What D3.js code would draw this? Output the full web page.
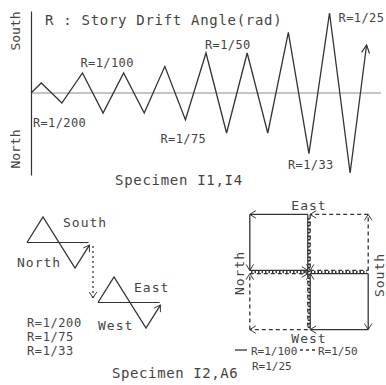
<!DOCTYPE html>
<html>
<head>
<meta charset="utf-8">
<script src="https://cdn.jsdelivr.net/npm/d3@7"></script>
<style>
  body { margin: 0; background: #fff; }
  svg text { font-family: "DejaVu Sans Mono", monospace; fill: #444; }
</style>
</head>
<body>
<svg id="chart" width="386" height="385"></svg>
<script>
// loading history, top chart: step (quarter cycles) and drift angle R (rad)
let steps = [0, 1, 3, 5, 7, 9, 11, 13, 15, 17, 19, 21, 23, 25, 27, 29, 31, 32.6];
let drift = [0, 1/200, -1/200, 1/100, -1/100, 1/100, -1/100, 1/75, -1/75,
             1/50, -1/50, 1/50, -1/50, 1/33, -1/33, 1/25, -1/25, 0.024];
let peakLabels = ["R=1/200", "R=1/100", "R=1/75", "R=1/50", "R=1/33", "R=1/25"];
let peakIdx = [2, 3, 8, 9, 14, 15];   // which point each label belongs to
let peakOff = [[-29, 24], [-2, -6], [-25, 23], [-1, -4], [-21, 15], [9, 9]];

// uniaxial zigzag (Specimen I2, A6)
let zigX = [0, 1, 3, 3.9];
let zigY = [0, 1, -1, -0.1];
let uniLabels = ["R=1/200", "R=1/75", "R=1/33"];

// biaxial square orbits (EW, NS)
let orbit100 = [
  [[0, 0], [0, 1], [-1, 1], [-1, 0], [0, 0]],
  [[0, 0], [1, 0], [1, -1], [0, -1], [0, 0]]
];
let orbit50 = [
  [[0, 0], [1, 0], [1, 1], [0, 1], [0, 0]],
  [[0, 0], [0, -1], [-1, -1], [-1, 0], [0, 0]]
];
let orbit25 = [
  [[0, -1], [0, 1]],
  [[-1, 0], [1, 0]]
];

let INK = "#333";
let svg = d3.select("#chart");

let defs = svg.append("defs");
defs.append("marker")
  .attr("id", "arr")
  .attr("viewBox", "-10 -6 12 12")
  .attr("refX", 0).attr("refY", 0)
  .attr("markerWidth", 12).attr("markerHeight", 12)
  .attr("markerUnits", "userSpaceOnUse")
  .attr("orient", "auto")
  .append("path")
  .attr("d", "M-8,-4L0,0L-8,4")
  .attr("fill", "none").attr("stroke", INK).attr("stroke-width", 1.2);
defs.append("marker")
  .attr("id", "arrS")
  .attr("viewBox", "-10 -6 12 12")
  .attr("refX", 0).attr("refY", 0)
  .attr("markerWidth", 9).attr("markerHeight", 9)
  .attr("markerUnits", "userSpaceOnUse")
  .attr("orient", "auto")
  .append("path")
  .attr("d", "M-8,-5L0,0L-8,5")
  .attr("fill", "none").attr("stroke", INK).attr("stroke-width", 1.3);

// ---------- top chart ----------
let x = d3.scaleLinear().domain([0, 34]).range([31, 381]);
let y = d3.scaleLinear().domain([-0.041, 0.041]).range([175, 11]);

svg.append("g")
  .attr("transform", `translate(${x(0)},0)`)
  .call(d3.axisLeft(y).ticks(0).tickSizeOuter(0))
  .call(g => g.select(".domain").attr("stroke", INK).attr("stroke-width", 1.2));

svg.append("line")
  .attr("x1", x(0)).attr("x2", x(34))
  .attr("y1", y(0)).attr("y2", y(0))
  .attr("stroke", "#8a8a8a").attr("stroke-width", 1);

let pts = steps.map((s, i) => [s, drift[i]]);
svg.append("path")
  .datum(pts)
  .attr("d", d3.line().x(d => x(d[0])).y(d => y(d[1])))
  .attr("fill", "none").attr("stroke", INK).attr("stroke-width", 1.3)
  .attr("marker-end", "url(#arr)");

svg.selectAll(".plab")
  .data(peakLabels)
  .join("text")
  .attr("class", "plab")
  .attr("x", (d, i) => x(steps[peakIdx[i]]) + peakOff[i][0])
  .attr("y", (d, i) => y(drift[peakIdx[i]]) + peakOff[i][1])
  .attr("font-size", 12).attr("letter-spacing", 0.4)
  .text(d => d);

svg.append("text").attr("x", 45).attr("y", 25)
  .attr("font-size", 14).attr("letter-spacing", 0.7)
  .text("R : Story Drift Angle(rad)");
svg.append("text").attr("transform", "translate(20,31) rotate(-90)")
  .attr("text-anchor", "middle").attr("font-size", 13)
  .text("South");
svg.append("text").attr("transform", "translate(20,149) rotate(-90)")
  .attr("text-anchor", "middle").attr("font-size", 13)
  .text("North");
svg.append("text").attr("x", 115).attr("y", 185)
  .attr("font-size", 14).attr("letter-spacing", 0.7)
  .text("Specimen I1,I4");

// ---------- bottom left: uniaxial ----------
let zx = d3.scaleLinear().domain([0, 4]).range([0, 64]);
let zy = d3.scaleLinear().domain([-1, 1]).range([26, -25]);
let zig = zigX.map((v, i) => [v, zigY[i]]);

function drawZig(tx, ty, up, down, upPos, downPos) {
  let g = svg.append("g").attr("transform", `translate(${tx},${ty})`);
  g.append("line")
    .attr("x1", zx(0)).attr("x2", zx(3.85))
    .attr("y1", zy(0)).attr("y2", zy(0))
    .attr("stroke", INK).attr("stroke-width", 1.2);
  g.append("path")
    .datum(zig)
    .attr("d", d3.line().x(d => zx(d[0])).y(d => zy(d[1])))
    .attr("fill", "none").attr("stroke", INK).attr("stroke-width", 1.3)
    .attr("marker-end", "url(#arrS)");
  g.append("text").attr("x", upPos[0]).attr("y", upPos[1])
    .attr("font-size", 13).attr("letter-spacing", 1).text(up);
  g.append("text").attr("x", downPos[0]).attr("y", downPos[1])
    .attr("font-size", 13).attr("letter-spacing", 1).text(down);
}
drawZig(27, 242, "South", "North", [36, -15], [-10, 25]);
drawZig(98, 302, "East", "West", [36, -10], [0, 28]);

svg.append("line")
  .attr("x1", 93).attr("x2", 93).attr("y1", 246).attr("y2", 298)
  .attr("stroke", INK).attr("stroke-width", 1.3)
  .attr("stroke-dasharray", "2,3")
  .attr("marker-end", "url(#arrS)");

svg.selectAll(".ulab")
  .data(uniLabels)
  .join("text")
  .attr("class", "ulab")
  .attr("x", 27)
  .attr("y", (d, i) => 327 + i * 14)
  .attr("font-size", 12).attr("letter-spacing", 0.6)
  .text(d => d);

svg.append("text").attr("x", 112).attr("y", 378)
  .attr("font-size", 14).attr("letter-spacing", 0.6)
  .text("Specimen I2,A6");

// ---------- bottom right: biaxial ----------
let bx = d3.scaleLinear().domain([-1, 1]).range([251, 367]);
let by = d3.scaleLinear().domain([-1, 1]).range([328, 216]);

function drawOrbit(path, dash) {
  let qx = Math.sign(path[2][0]), qy = Math.sign(path[2][1]);
  let g = svg.append("g").attr("transform", `translate(${qx * 1.2},${-qy * 1.6})`);
  for (let i = 0; i < path.length - 1; i++) {
    let a = path[i], b = path[i + 1];
    g.append("line")
      .attr("x1", bx(a[0])).attr("y1", by(a[1]))
      .attr("x2", bx(b[0])).attr("y2", by(b[1]))
      .attr("stroke", INK).attr("stroke-width", 1.3)
      .attr("stroke-dasharray", dash ? "4,3" : null)
      .attr("marker-end", i >= 1 ? "url(#arrS)" : null);
  }
}
orbit100.forEach(p => drawOrbit(p, false));
orbit50.forEach(p => drawOrbit(p, true));

svg.selectAll(".o25")
  .data(orbit25)
  .join("line")
  .attr("class", "o25")
  .attr("x1", d => bx(d[0][0])).attr("y1", d => by(d[0][1]))
  .attr("x2", d => bx(d[1][0])).attr("y2", d => by(d[1][1]))
  .attr("stroke", INK).attr("stroke-width", 2.4)
  .attr("stroke-dasharray", "1.5,2");

svg.append("text").attr("x", bx(0)).attr("y", 210)
  .attr("text-anchor", "middle").attr("font-size", 13).attr("letter-spacing", 1)
  .text("East");
svg.append("text").attr("x", bx(0)).attr("y", 343)
  .attr("text-anchor", "middle").attr("font-size", 13).attr("letter-spacing", 1)
  .text("West");
svg.append("text").attr("transform", "translate(244,273) rotate(-90)")
  .attr("text-anchor", "middle").attr("font-size", 13).attr("letter-spacing", 1)
  .text("North");
svg.append("text").attr("transform", "translate(384,275) rotate(-90)")
  .attr("text-anchor", "middle").attr("font-size", 13).attr("letter-spacing", 1)
  .text("South");

// legend
svg.append("line").attr("x1", 235).attr("x2", 247).attr("y1", 350).attr("y2", 350)
  .attr("stroke", INK).attr("stroke-width", 1.3);
svg.append("text").attr("x", 251).attr("y", 355)
  .attr("font-size", 11).text("R=1/100");
svg.append("line").attr("x1", 300).attr("x2", 317).attr("y1", 350).attr("y2", 350)
  .attr("stroke", INK).attr("stroke-width", 1.3).attr("stroke-dasharray", "3,3");
svg.append("text").attr("x", 318).attr("y", 355)
  .attr("font-size", 11).text("R=1/50");
svg.append("text").attr("x", 252).attr("y", 370)
  .attr("font-size", 11).text("R=1/25");
</script>
</body>
</html>
